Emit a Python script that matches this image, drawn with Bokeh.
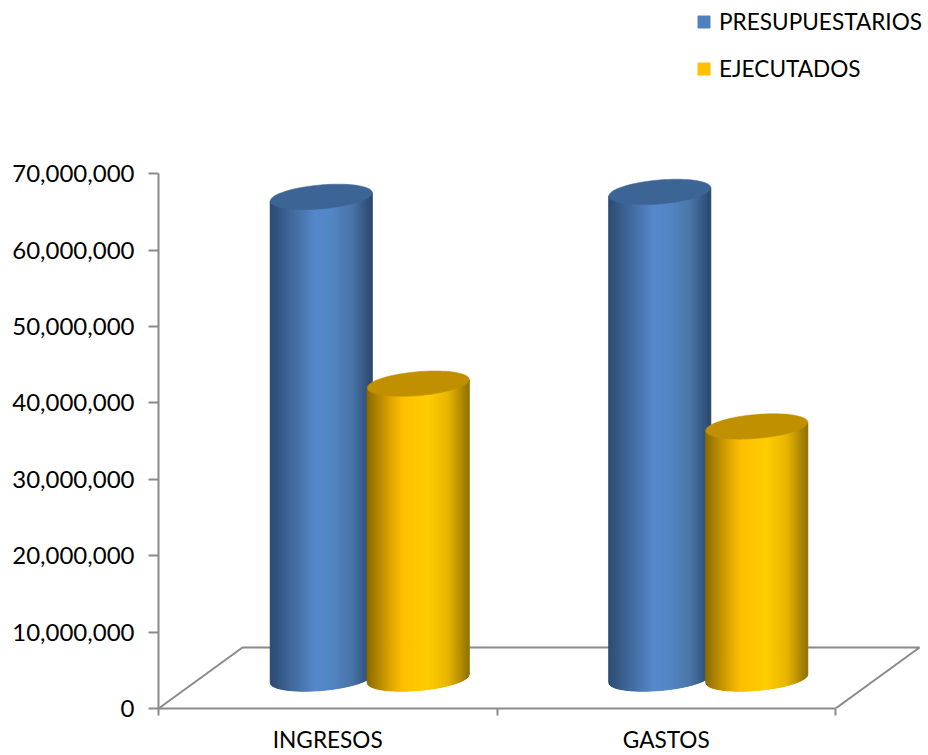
from bokeh.plotting import figure
from bokeh.models import Range1d, FixedTicker, NumeralTickFormatter, Legend, LegendItem, ColumnDataSource
from bokeh.embed import file_html
from bokeh.resources import INLINE
import numpy as np

categories = ["INGRESOS", "GASTOS"]
presupuestarios = [63.05e6, 63.7e6]
ejecutados = [38.6e6, 33.0e6]
y_ticks = [0, 10e6, 20e6, 30e6, 40e6, 50e6, 60e6, 70e6]

# styles
FONT = "Lato"
AXIS = "#8a8a8a"
BLUE_STOPS = [(0, "#2b4a72"), (.2, "#3f6797"), (.45, "#5588cc"), (.6, "#5185c5"), (.8, "#4a76aa"), (1, "#2b486e")]
GOLD_STOPS = [(0, "#8a6a00"), (.25, "#e3a900"), (.35, "#ffbf00"), (.6, "#ffcc00"), (.8, "#e8b400"), (1, "#8f7200")]
BLUE_TOP, GOLD_TOP = "#3c6494", "#c09000"
BLUE_KEY, GOLD_KEY = "#4f81bd", "#ffc000"

# scale: pixels per data unit
PX_X = 338.5
PX_Y = 534.7 / 70e6
FRAME_W, FRAME_H = 769, 708

p = figure(width=928, height=755, output_backend="svg", toolbar_location=None,
           x_range=Range1d(0, FRAME_W / PX_X), y_range=Range1d(0, FRAME_H / PX_Y),
           min_border_left=158, min_border_right=1, min_border_top=0, min_border_bottom=47)
p.outline_line_color = None
p.grid.visible = False

# y axis
ya = p.yaxis[0]
ya.ticker = FixedTicker(ticks=y_ticks)
ya.formatter = NumeralTickFormatter(format="0,0")
ya.bounds = (0, 70e6)
ya.axis_line_color = AXIS; ya.axis_line_width = 2
ya.major_tick_line_color = AXIS; ya.major_tick_line_width = 2
ya.major_tick_out = 10; ya.major_tick_in = 0
ya.minor_tick_line_color = None
ya.major_label_text_font = FONT; ya.major_label_text_font_size = "24px"
ya.major_label_text_color = "#000000"; ya.major_label_standoff = 14

# x axis
xa = p.xaxis[0]
xa.ticker = FixedTicker(ticks=[0.5, 1.5], minor_ticks=[0, 1, 2])
xa.major_label_overrides = {0.5: categories[0], 1.5: categories[1]}
xa.bounds = (0, 2)
xa.axis_line_color = AXIS; xa.axis_line_width = 2
xa.major_tick_line_color = None; xa.major_tick_out = 0; xa.major_tick_in = 0
xa.minor_tick_line_color = AXIS; xa.minor_tick_line_width = 2
xa.minor_tick_out = 7; xa.minor_tick_in = 0
xa.major_label_text_font = FONT; xa.major_label_text_font_size = "22.6px"
xa.major_label_text_color = "#000000"; xa.major_label_standoff = 10

# floor
dx, dy = 84 / PX_X, 61 / PX_Y
p.line([0, dx, 2 + dx, 2], [0, dy, dy, 0], line_color=AXIS, line_width=2)


def shade(stops, t):
    pos = [s[0] for s in stops]
    rgb = [[int(s[1][i:i + 2], 16) for s in stops] for i in (1, 3, 5)]
    return "#%02x%02x%02x" % tuple(int(round(np.interp(t, pos, c))) for c in rgb)


def cylinder(cx, value, stops, top):
    a = 51 / PX_X
    s, b = 4.2 / PX_Y, 12 / PX_Y
    base = 30 / PX_Y
    n = 102
    edges = np.linspace(-1, 1, n + 1)
    xs, ys, cols = [], [], []
    low = lambda u: base + s * u - b * np.sqrt(np.clip(1 - u * u, 0, 1))
    for i in range(n):
        u0, u1 = edges[i], edges[i + 1]
        xs.append([cx + a * u0, cx + a * u1, cx + a * u1, cx + a * u0])
        ys.append([low(u0), low(u1), base + value + s * u1, base + value + s * u0])
        cols.append(shade(stops, (i + .5) / n))
    p.patches(xs, ys, fill_color=cols, line_color=cols, line_width=1.0)
    th = np.linspace(0, 2 * np.pi, 90)
    ex = cx + a * np.cos(th)
    ey = base + value + s * np.cos(th) + b * np.sin(th)
    p.patch(ex, ey, fill_color=top, line_color=top, line_width=0.5)


for i in range(len(categories)):
    centre = i + 0.5 + dx / 2
    off = 48.5 / PX_X
    cylinder(centre - off, presupuestarios[i], BLUE_STOPS, BLUE_TOP)
    cylinder(centre + off, ejecutados[i], GOLD_STOPS, GOLD_TOP)

# legend keys: renderers with no visible data, only their swatch shows
blank = dict(left=[float("nan")], right=[float("nan")], top=[float("nan")], bottom=[float("nan")])
k1 = p.quad(source=ColumnDataSource(blank), left="left", right="right", top="top", bottom="bottom", fill_color=BLUE_KEY, line_color=BLUE_KEY)
k2 = p.quad(source=ColumnDataSource(blank), left="left", right="right", top="top", bottom="bottom", fill_color=GOLD_KEY, line_color=GOLD_KEY)
legend = Legend(items=[LegendItem(label="PRESUPUESTARIOS", renderers=[k1]), LegendItem(label="EJECUTADOS", renderers=[k2])],
                location=(538, 626), orientation="vertical", padding=0, margin=0, spacing=20,
                glyph_width=15, glyph_height=15, label_height=26, label_standoff=8,
                label_text_font=FONT, label_text_font_size="22.6px", label_text_color="#000000",
                border_line_color=None, background_fill_alpha=0)
p.add_layout(legend, "center")

open("out.html", "w").write(file_html(p, INLINE))
